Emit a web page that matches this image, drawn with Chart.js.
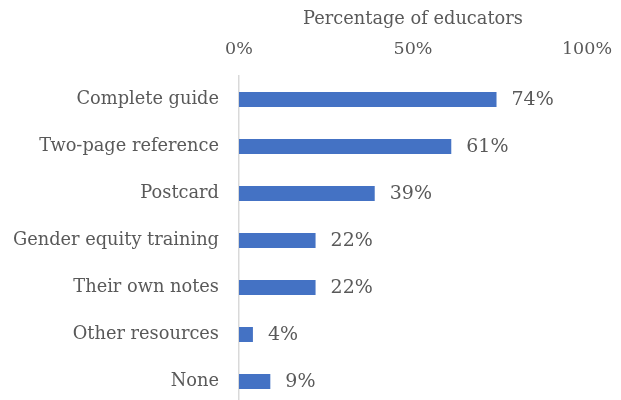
<!DOCTYPE html>
<html>
<head>
<meta charset="utf-8">
<script src="https://cdn.jsdelivr.net/npm/chart.js@4"></script>
<style>
html,body{margin:0;padding:0;overflow:hidden;background:#fff;}
#wrap{width:621px;height:405px;}
</style>
</head>
<body>
<div id="wrap"><canvas id="c" width="621" height="405"></canvas></div>
<script>
const categories = ["Complete guide","Two-page reference","Postcard","Gender equity training","Their own notes","Other resources","None"];
const values = [74, 61, 39, 22, 22, 4, 9];
const tickValues = [0, 50, 100];
const axisTitle = "Percentage of educators";

const FONT = "'DejaVu Serif', serif";
const TEXT = "#595959";

const labelPlugin = {
  id: 'barLabels',
  afterDatasetsDraw(chart) {
    const ctx = chart.ctx;
    const meta = chart.getDatasetMeta(0);
    ctx.save();
    ctx.font = "19px " + FONT;
    ctx.fillStyle = TEXT;
    ctx.textAlign = 'left';
    ctx.textBaseline = 'middle';
    meta.data.forEach((bar, i) => {
      ctx.fillText(values[i] + '%', bar.x + 15, bar.y + 1);
    });
    ctx.restore();
  }
};

new Chart(document.getElementById('c'), {
  type: 'bar',
  data: {
    labels: categories,
    datasets: [{
      data: values,
      backgroundColor: '#4472C4',
      barPercentage: 0.32,
      categoryPercentage: 1.0
    }]
  },
  options: {
    indexAxis: 'y',
    responsive: false,
    animation: false,
    layout: { padding: { left: 0, right: 34, top: 0, bottom: 0 } },
    plugins: { legend: { display: false }, tooltip: { enabled: false } },
    scales: {
      x: {
        position: 'top',
        min: 0, max: 100,
        afterBuildTicks(scale) { scale.ticks = tickValues.map(v => ({ value: v })); },
        afterFit(scale) { scale.height = 76; scale.paddingLeft = 0; scale.paddingRight = 0; },
        grid: { display: false, drawTicks: false },
        border: { display: false },
        ticks: {
          color: TEXT,
          font: { family: FONT, size: 17.5 },
          padding: 16,
          maxRotation: 0,
          callback: v => v + '%'
        },
        title: {
          display: true,
          text: axisTitle,
          color: TEXT,
          font: { family: FONT, size: 17.8 },
          padding: { top: 9, bottom: 4 }
        }
      },
      y: {
        afterFit(scale) { scale.width = 239; scale.paddingTop = 0; scale.paddingBottom = 0; },
        grid: { display: false, drawTicks: false },
        border: { display: true, color: '#D9D9D9', width: 1.5 },
        ticks: {
          color: TEXT,
          font: { family: FONT, size: 17.8 },
          padding: 20
        }
      }
    }
  },
  plugins: [labelPlugin]
});
</script>
</body>
</html>
